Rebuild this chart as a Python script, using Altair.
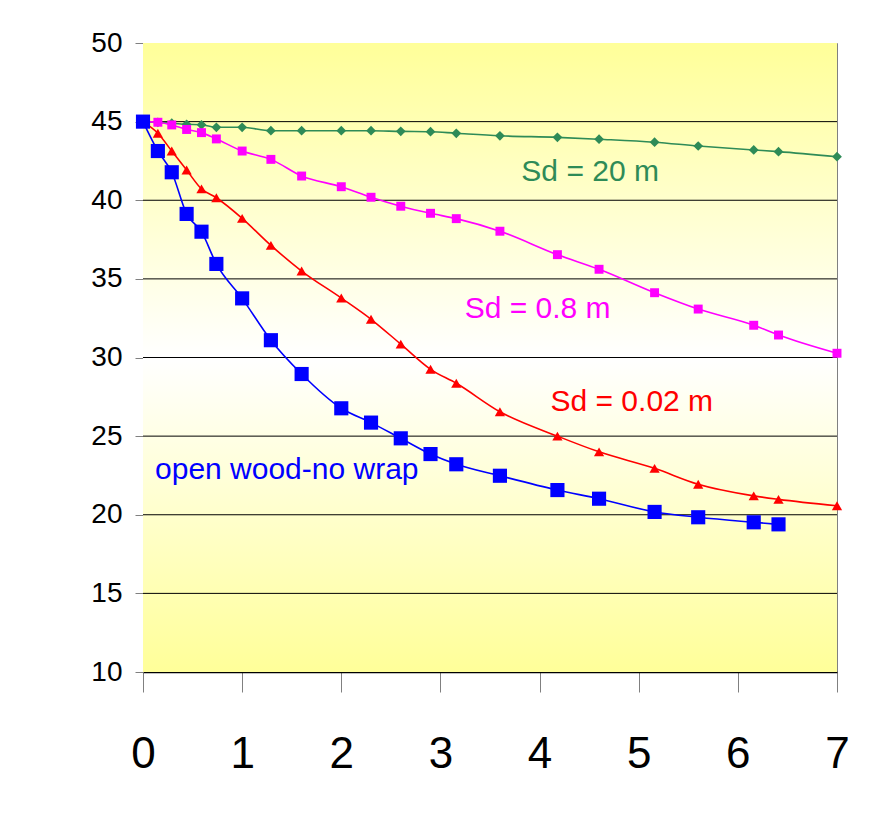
import altair as alt
import pandas as pd

# Shared x positions
X = [0, 0.15, 0.29, 0.44, 0.59, 0.74, 1.0, 1.29, 1.6, 2.0, 2.3, 2.6, 2.9,
     3.16, 3.6, 4.18, 4.6, 5.16, 5.6, 6.16, 6.41, 7.0]

green = [45, 44.95, 44.9, 44.83, 44.8, 44.64, 44.64, 44.42, 44.42, 44.42, 44.42,
         44.38, 44.36, 44.26, 44.1, 44.0, 43.88, 43.69, 43.45, 43.2, 43.09, 42.77]
magenta = [45, 44.96, 44.79, 44.5, 44.3, 43.9, 43.13, 42.6, 41.54, 40.86, 40.19,
           39.62, 39.17, 38.83, 38.03, 36.54, 35.61, 34.12, 33.08, 32.05, 31.43, 30.27]
red = [45, 44.26, 43.13, 41.92, 40.72, 40.16, 38.85, 37.13, 35.5, 33.78, 32.43,
       30.85, 29.25, 28.36, 26.55, 25.0, 24.0, 22.95, 21.94, 21.2, 20.98, 20.57]
blue = [45, 43.13, 41.78, 39.13, 38.0, 35.95, 33.76, 31.1, 28.95, 26.77, 25.86,
        24.86, 23.86, 23.21, 22.48, 21.57, 21.02, 20.18, 19.84, 19.52, 19.39]

series_names = ["Sd = 20 m", "Sd = 0.8 m", "Sd = 0.02 m", "open wood-no wrap"]
series_colors = ["#2E8B57", "#FF00FF", "#FF0000", "#0000FF"]
series_shapes = ["diamond", "square", "triangle-up", "square"]
series_sizes = [95, 80, 105, 200]

label_x = [4.51, 3.98, 4.93, 1.45]
label_y = [41.8, 33.1, 27.2, 22.85]

x_ticks = [0, 1, 2, 3, 4, 5, 6, 7]
y_ticks = [10, 15, 20, 25, 30, 35, 40, 45, 50]
grid_vals = [15, 20, 25, 30, 35, 40, 45]

all_values = [green, magenta, red, blue]

labels = pd.DataFrame({"series": series_names, "x": label_x, "y": label_y})
grid = pd.DataFrame({"y": grid_vals})
bg = pd.DataFrame({"x0": [x_ticks[0]], "x1": [x_ticks[-1]],
                   "y0": [y_ticks[0]], "y1": [y_ticks[-1]]})

FONT = "Liberation Sans, Arial, sans-serif"

xscale = alt.Scale(domain=[0, 7], nice=False, zero=False)
yscale = alt.Scale(domain=[10, 50], nice=False, zero=False)
cscale = alt.Scale(domain=series_names, range=series_colors)

xaxis = alt.Axis(values=x_ticks, format="d", title=None, grid=False, tickSize=20,
                 tickColor="#808080", domainColor="#000000", domainWidth=1.5,
                 labelFont=FONT, labelFontSize=44, labelColor="#000000",
                 labelPadding=40, labelFlush=False, labelOverlap=False)
yaxis = alt.Axis(values=y_ticks, format="d", title=None, grid=False, tickSize=8,
                 tickColor="#808080", domainColor="#808080",
                 labelFont=FONT, labelFontSize=28, labelColor="#000000",
                 labelPadding=13, labelFlush=False, labelOverlap=False)

background = alt.Chart(bg).mark_rect(
    color=alt.Gradient(
        gradient="linear",
        stops=[alt.GradientStop(color="#FFFF99", offset=0),
               alt.GradientStop(color="#FFFFFF", offset=0.5),
               alt.GradientStop(color="#FFFF99", offset=1)],
        x1=0, x2=0, y1=0, y2=1)
).encode(
    x=alt.X("x0:Q", scale=xscale, axis=xaxis),
    x2="x1:Q",
    y=alt.Y("y0:Q", scale=yscale, axis=yaxis),
    y2="y1:Q",
)

gridlines = alt.Chart(grid).mark_rule(color="#000000", strokeWidth=1).encode(
    y=alt.Y("y:Q", scale=yscale),
)

layers = [background, gridlines]
for name, ys, col, shp, sz in zip(series_names, all_values, series_colors,
                                  series_shapes, series_sizes):
    d = pd.DataFrame({"x": X[:len(ys)], "y": ys})
    base = alt.Chart(d).encode(
        x=alt.X("x:Q", scale=xscale),
        y=alt.Y("y:Q", scale=yscale),
    )
    layers.append(base.mark_line(interpolate="monotone", strokeWidth=1.6, color=col))
    layers.append(base.mark_point(shape=shp, size=sz, filled=True, opacity=1,
                                  color=col))

texts = alt.Chart(labels).mark_text(font=FONT, fontSize=30, align="center",
                                    baseline="middle").encode(
    x=alt.X("x:Q", scale=xscale),
    y=alt.Y("y:Q", scale=yscale),
    text="series:N",
    color=alt.Color("series:N", scale=cscale, legend=None),
)
layers.append(texts)

chart = alt.layer(*layers).properties(
    width=694, height=629,
    autosize=alt.AutoSizeParams(type="none"),
    padding={"left": 135, "top": 35, "right": 30, "bottom": 120},
).configure_view(stroke="#808080", strokeWidth=1)

chart.save("out.html", embed_options={"renderer": "svg", "actions": False})
